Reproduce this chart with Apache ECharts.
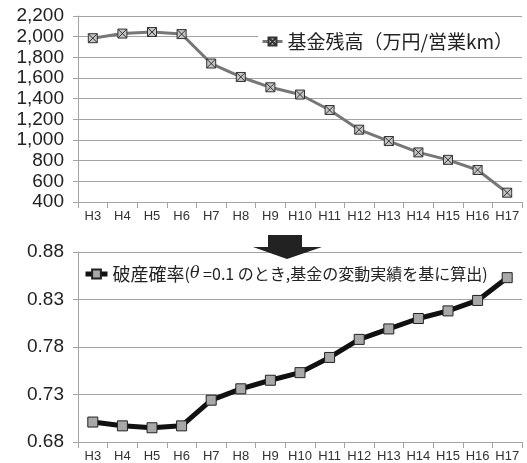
<!DOCTYPE html>
<html>
<head>
<meta charset="utf-8">
<script src="https://cdn.jsdelivr.net/npm/echarts@6/dist/echarts.min.js"></script>
<style>
  html, body { margin: 0; padding: 0; background: #fff; }
  #chart { width: 527px; height: 463px; }
</style>
</head>
<body>
<div id="chart"></div>
<script>
// Fiscal years (Heisei) shared by both panels
const years = ['H3', 'H4', 'H5', 'H6', 'H7', 'H8', 'H9', 'H10', 'H11', 'H12', 'H13', 'H14', 'H15', 'H16', 'H17'];

// Fund balance (10,000 yen per operating km)
const fundBalance = [1985, 2030, 2045, 2025, 1740, 1610, 1510, 1440, 1290, 1100, 990, 880, 808, 710, 490];

// Ruin probability (theta = 0.1)
const ruinProbability = [0.701, 0.697, 0.695, 0.697, 0.724, 0.736, 0.745, 0.753, 0.769, 0.788, 0.799, 0.810, 0.818, 0.829, 0.853];

const fundName = '基金残高（万円/営業km）';
const ruinName = '破産確率';

const latin = 'Liberation Sans, Arial, sans-serif';
const cjk = '"Noto Sans CJK JP", "Noto Sans", sans-serif';
const gridColor = '#a3a3a3';

// Square with a cross through it
const crossBox = 'path://M0,0L10,0L10,10L0,10Z M0,0L10,10 M10,0L0,10';

function xAxisFor(gridIndex) {
  return {
    type: 'category',
    gridIndex: gridIndex,
    data: years,
    boundaryGap: true,
    axisLine: { show: true, lineStyle: { color: gridColor, width: 1 } },
    axisTick: { show: true, length: 6, lineStyle: { color: gridColor } },
    axisLabel: { interval: 0, margin: 8, fontSize: 13, color: '#333', fontFamily: latin }
  };
}

function yAxisFor(gridIndex, min, max, interval, fmt) {
  return {
    type: 'value',
    gridIndex: gridIndex,
    min: min,
    max: max,
    interval: interval,
    axisLine: { show: true, lineStyle: { color: gridColor, width: 1 } },
    axisTick: { show: true, length: 5, lineStyle: { color: gridColor } },
    splitLine: { show: true, lineStyle: { color: gridColor, width: 1 } },
    axisLabel: { margin: 14, fontSize: 19, color: '#222', fontFamily: latin, formatter: fmt }
  };
}

const chart = echarts.init(document.getElementById('chart'), null, { renderer: 'canvas' });

chart.setOption({
  animation: false,
  backgroundColor: '#fff',
  grid: [
    { left: 78, right: 5, top: 16, height: 186 },
    { left: 78, right: 5, top: 252, height: 190 }
  ],
  xAxis: [xAxisFor(0), xAxisFor(1)],
  yAxis: [
    yAxisFor(0, 400, 2200, 200, v => v.toLocaleString('en-US')),
    yAxisFor(1, 0.68, 0.88, 0.05, v => v.toFixed(2))
  ],
  legend: [
    {
      data: [fundName],
      left: 258,
      top: 29,
      backgroundColor: '#fff',
      padding: [3, 12, 3, 3],
      itemWidth: 20,
      itemHeight: 10,
      itemGap: 0,
      lineStyle: { width: 3 },
      textStyle: { fontSize: 19, color: '#222', fontFamily: cjk }
    },
    {
      data: [ruinName],
      left: 83,
      top: 265,
      padding: 0,
      itemWidth: 22,
      itemHeight: 11,
      lineStyle: { width: 5 },
      textStyle: {
        fontSize: 18, color: '#222', fontFamily: cjk,
        rich: {
          big: { fontSize: 18, color: '#222', fontFamily: cjk },
          small: { fontSize: 16, color: '#222', fontFamily: cjk },
          theta: { fontSize: 16, color: '#222', fontFamily: 'DejaVu Serif, serif', fontStyle: 'italic' }
        }
      },
      formatter: () => '{big|破産確率}{small|(}{theta|θ}{small| =0.1 のとき,基金の変動実績を基に算出)}'
    }
  ],
  series: [
    {
      name: fundName,
      type: 'line',
      xAxisIndex: 0,
      yAxisIndex: 0,
      data: fundBalance,
      symbol: crossBox,
      symbolSize: 9,
      showAllSymbol: true,
      lineStyle: { color: '#777', width: 3 },
      itemStyle: { color: '#c4c4c4', borderColor: '#333', borderWidth: 1 }
    },
    {
      name: ruinName,
      type: 'line',
      xAxisIndex: 1,
      yAxisIndex: 1,
      data: ruinProbability,
      symbol: 'rect',
      symbolSize: 10,
      showAllSymbol: true,
      lineStyle: { color: '#111', width: 5 },
      itemStyle: { color: '#a8a8a8', borderColor: '#222', borderWidth: 1 }
    }
  ],
  graphic: [
    {
      // Downward arrow linking the two panels
      type: 'polygon',
      z: 100,
      shape: {
        points: [[268, 235], [302, 235], [302, 247], [322, 247], [287, 259], [253, 247], [268, 247]]
      },
      style: { fill: '#222' }
    }
  ]
});
</script>
</body>
</html>
